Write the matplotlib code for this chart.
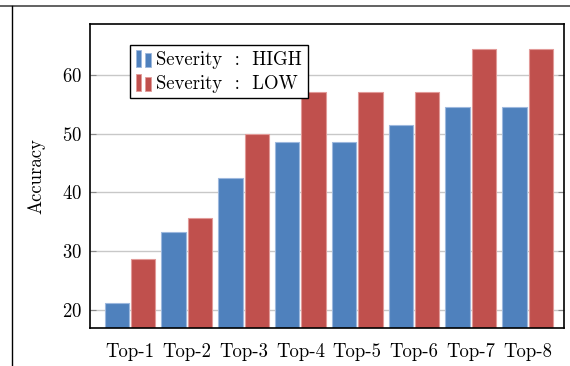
import numpy as np
import matplotlib
matplotlib.use("Agg")
import matplotlib.pyplot as plt
from matplotlib.patches import Rectangle, Patch
from matplotlib.legend_handler import HandlerBase
from matplotlib.lines import Line2D

plt.rcParams["font.family"] = ["cmr10", "DejaVu Serif"]
plt.rcParams["axes.formatter.use_mathtext"] = True

# ── data ─────────────────────────────────────────────────────────────────────
categories = ["Top-1", "Top-2", "Top-3", "Top-4", "Top-5", "Top-6", "Top-7", "Top-8"]
acc_high = [21.2, 33.3, 42.4, 48.5, 48.5, 51.5, 54.5, 54.5]
acc_low = [28.6, 35.7, 50.0, 57.1, 57.1, 57.1, 64.3, 64.3]
yticks = [20, 30, 40, 50, 60]

BLUE, BLUE_EDGE = "#4F81BD", "#9DB8DE"
RED, RED_EDGE = "#C0504D", "#E29A98"
FS = 13.5


class BarPairHandler(HandlerBase):
    # two small bars as the legend key, like pgfplots' ybar legend
    def create_artists(self, legend, orig_handle, xdescent, ydescent,
                       width, height, fontsize, trans):
        fc = orig_handle.get_facecolor()
        ec = orig_handle.get_edgecolor()
        w = width * 0.32
        r1 = Rectangle((-xdescent, -ydescent - 0.2 * height), w, height * 1.3,
                       facecolor=fc, edgecolor=ec, lw=0.6, transform=trans)
        r2 = Rectangle((-xdescent + width * 0.55, -ydescent - 0.2 * height), w * 1.2, height * 1.05,
                       facecolor=fc, edgecolor=ec, lw=0.6, transform=trans)
        return [r1, r2]


fig = plt.figure(figsize=(5.70, 3.66), dpi=100)
ax = fig.add_axes([90 / 570, 1 - 328 / 366, 474 / 570, 304 / 366])

x = np.arange(len(categories))
bw = 0.43
off = 0.233
ax.bar(x - off, acc_high, width=bw, color=BLUE, edgecolor=BLUE_EDGE, linewidth=0.8, zorder=3)
ax.bar(x + off, acc_low, width=bw, color=RED, edgecolor=RED_EDGE, linewidth=0.8, zorder=3)

ax.set_xlim(-0.704, 7.64)
ax.set_ylim(16.94, 68.62)
ax.set_xticks(x)
ax.set_xticklabels(categories)
ax.set_yticks(yticks)
ax.tick_params(axis="x", length=0, labelsize=FS, pad=11)
ax.tick_params(axis="y", length=4, direction="in", color="#888888", labelsize=FS,
               right=True, pad=6)
ax.grid(axis="y", color="#C8C8C8", linewidth=1.0, zorder=0)
for sp in ax.spines.values():
    sp.set_linewidth(1.2)
    sp.set_zorder(4)
ax.set_ylabel("Accuracy", fontsize=FS, labelpad=12)

handles = [Patch(facecolor=BLUE, edgecolor=BLUE_EDGE),
           Patch(facecolor=RED, edgecolor=RED_EDGE)]
leg = ax.legend(handles, ["Severity  :  HIGH", "Severity  :  LOW"],
                handler_map={Patch: BarPairHandler()},
                loc="upper left", bbox_to_anchor=(40 / 474, (328 - 45) / 304),
                borderaxespad=0, fontsize=FS, fancybox=False, framealpha=1,
                edgecolor="black", handlelength=0.9, handletextpad=0.2,
                borderpad=0.3, labelspacing=0.32)
leg.get_frame().set_linewidth(1.0)
leg.set_zorder(5)

# page border lines around the figure
fig.add_artist(Line2D([0, 1], [1 - 6 / 366] * 2, transform=fig.transFigure,
                      color="#555555", linewidth=1.3))
fig.add_artist(Line2D([12 / 570] * 2, [0, 1 - 6 / 366], transform=fig.transFigure,
                      color="black", linewidth=1.0))

fig.savefig("out.png", dpi=100)
